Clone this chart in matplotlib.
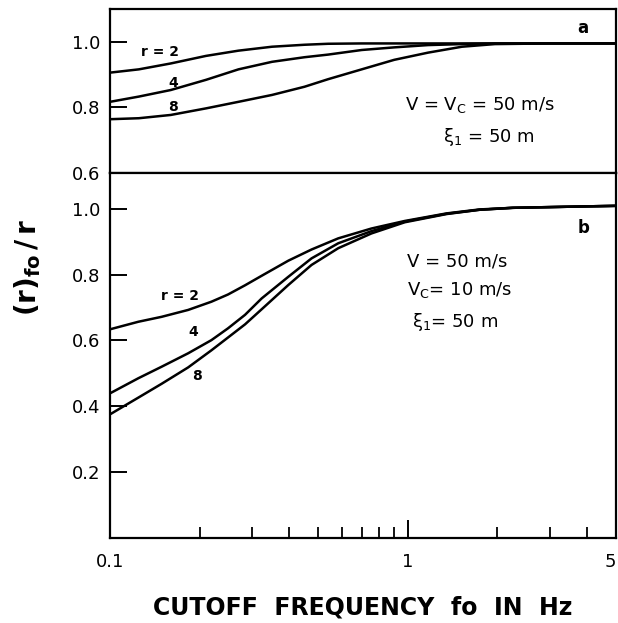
import matplotlib
matplotlib.use("Agg")
import matplotlib.pyplot as plt
from matplotlib.ticker import FixedLocator, NullFormatter, NullLocator

plt.rcParams['font.family'] = ['DejaVu Sans']
plt.rcParams['mathtext.fontset'] = 'dejavusans'

# ---- data ----
# panel a : V = Vc = 50 m/s, xi1 = 50 m
freq_a = [0.1, 0.125, 0.16, 0.21, 0.27, 0.35, 0.45, 0.54, 0.70, 0.90, 1.17, 1.52, 1.96, 3.0, 5.0]
r2_a = [0.906, 0.916, 0.934, 0.957, 0.973, 0.985, 0.991, 0.994, 0.995, 0.995, 0.995, 0.995, 0.995, 0.995, 0.995]
r4_a = [0.817, 0.833, 0.853, 0.884, 0.916, 0.939, 0.953, 0.961, 0.975, 0.983, 0.990, 0.993, 0.995, 0.995, 0.995]
r8_a = [0.764, 0.767, 0.777, 0.797, 0.817, 0.838, 0.863, 0.886, 0.916, 0.945, 0.967, 0.985, 0.993, 0.995, 0.995]

# panel b : V = 50 m/s, Vc = 10 m/s, xi1 = 50 m
freq_b = [0.1, 0.1245, 0.149, 0.183, 0.219, 0.249, 0.284, 0.323, 0.397, 0.475, 0.584, 0.755, 0.977,
          1.35, 1.74, 2.25, 2.93, 3.78, 5.0]
r2_b = [0.634, 0.657, 0.672, 0.693, 0.718, 0.740, 0.768, 0.797, 0.843, 0.877, 0.911, 0.941, 0.964,
        0.987, 0.999, 1.004, 1.006, 1.008, 1.010]
r4_b = [0.439, 0.485, 0.520, 0.561, 0.601, 0.637, 0.678, 0.728, 0.794, 0.850, 0.896, 0.933, 0.962,
        0.986, 0.998, 1.004, 1.006, 1.008, 1.010]
r8_b = [0.375, 0.426, 0.468, 0.518, 0.570, 0.609, 0.649, 0.695, 0.769, 0.830, 0.881, 0.926, 0.960,
        0.985, 0.998, 1.004, 1.006, 1.008, 1.010]

yticks_a = [0.6, 0.8, 1.0]
yticks_b = [0.2, 0.4, 0.6, 0.8, 1.0]
xmajor = [0.1, 1]
xmajor_labels = ["0.1", "1"]
xend_label = "5"
xminor = [0.2, 0.3, 0.4, 0.5, 0.6, 0.7, 0.8, 0.9, 2, 3, 4]

fig = plt.figure(figsize=(6.18, 6.23), dpi=100)
W, H = 618.0, 623.0
left, right = 110 / W, 616 / W
ax_a = fig.add_axes([left, 450 / H, right - left, 164 / H])
ax_b = fig.add_axes([left, 85.5 / H, right - left, 364.5 / H])

lw = 1.8
for ax in (ax_a, ax_b):
    ax.set_xscale('log')
    ax.set_xlim(0.1, 5)
    for s in ax.spines.values():
        s.set_linewidth(1.6)
        s.set_color('black')

for y in (r2_a, r4_a, r8_a):
    ax_a.plot(freq_a, y, color='black', lw=lw, solid_capstyle='butt')
for y in (r2_b, r4_b, r8_b):
    ax_b.plot(freq_b, y, color='black', lw=lw, solid_capstyle='butt')

ax_a.set_ylim(0.6, 1.1)
ax_b.set_ylim(0.0, 1.11)

# y ticks
ax_a.yaxis.set_major_locator(FixedLocator(yticks_a))
ax_a.set_yticklabels([f"{v:.1f}" for v in yticks_a])
ax_b.yaxis.set_major_locator(FixedLocator(yticks_b))
ax_b.set_yticklabels([f"{v:.1f}" for v in yticks_b])
for ax in (ax_a, ax_b):
    ax.tick_params(axis='y', which='major', direction='in', length=12, width=1.4,
                   labelsize=13, pad=7, right=False)
    ax.yaxis.set_minor_locator(NullLocator())

# x ticks
ax_a.xaxis.set_major_locator(NullLocator())
ax_a.xaxis.set_minor_locator(NullLocator())
ax_b.xaxis.set_major_locator(FixedLocator(xmajor))
ax_b.set_xticklabels(xmajor_labels)
ax_b.xaxis.set_minor_locator(FixedLocator(xminor))
ax_b.xaxis.set_minor_formatter(NullFormatter())
ax_b.tick_params(axis='x', which='major', direction='in', length=13, width=1.4,
                 labelsize=13, pad=11, top=False)
ax_b.tick_params(axis='x', which='minor', direction='in', length=8, width=1.3, top=False)
# end label "5" at the right edge of the axis
ax_b.text(1.0, -0.043, xend_label, transform=ax_b.transAxes, ha='right', va='top',
          fontsize=13)

# panel a annotations
ax_a.text(0.099, 0.738, "r = 2", transform=ax_a.transAxes, ha='center', va='center',
          fontsize=10, fontweight='bold')
ax_a.text(0.125, 0.549, "4", transform=ax_a.transAxes, ha='center', va='center',
          fontsize=10, fontweight='bold')
ax_a.text(0.125, 0.402, "8", transform=ax_a.transAxes, ha='center', va='center',
          fontsize=10, fontweight='bold')
ax_a.text(0.935, 0.887, "a", transform=ax_a.transAxes, ha='center', va='center',
          fontsize=12, fontweight='bold')
ax_a.text(0.583, 0.415, r"V = V$_\mathregular{C}$ = 50 m/s", transform=ax_a.transAxes,
          ha='left', va='center', fontsize=13)
ax_a.text(0.658, 0.220, r"ξ$_\mathregular{1}$ = 50 m", transform=ax_a.transAxes,
          ha='left', va='center', fontsize=13)

# panel b annotations
ax_b.text(0.138, 0.662, "r = 2", transform=ax_b.transAxes, ha='center', va='center',
          fontsize=10, fontweight='bold')
ax_b.text(0.164, 0.564, "4", transform=ax_b.transAxes, ha='center', va='center',
          fontsize=10, fontweight='bold')
ax_b.text(0.172, 0.443, "8", transform=ax_b.transAxes, ha='center', va='center',
          fontsize=10, fontweight='bold')
ax_b.text(0.935, 0.848, "b", transform=ax_b.transAxes, ha='center', va='center',
          fontsize=12, fontweight='bold')
ax_b.text(0.587, 0.756, "V = 50 m/s", transform=ax_b.transAxes,
          ha='left', va='center', fontsize=13)
ax_b.text(0.587, 0.679, r"V$_\mathregular{C}$= 10 m/s", transform=ax_b.transAxes,
          ha='left', va='center', fontsize=13)
ax_b.text(0.597, 0.591, r"ξ$_\mathregular{1}$= 50 m", transform=ax_b.transAxes,
          ha='left', va='center', fontsize=13)

# axis labels
fig.text(363 / W, 1 - 607 / H, "CUTOFF  FREQUENCY  fo  IN  Hz", ha='center', va='center',
         fontsize=17, fontweight='bold')
fig.text(28 / W, 1 - 268 / H, r"$\mathbf{(r)_{fo}\,/\,r}$", ha='center', va='center',
         rotation=90, fontsize=20)

fig.savefig("out.png", dpi=100)
